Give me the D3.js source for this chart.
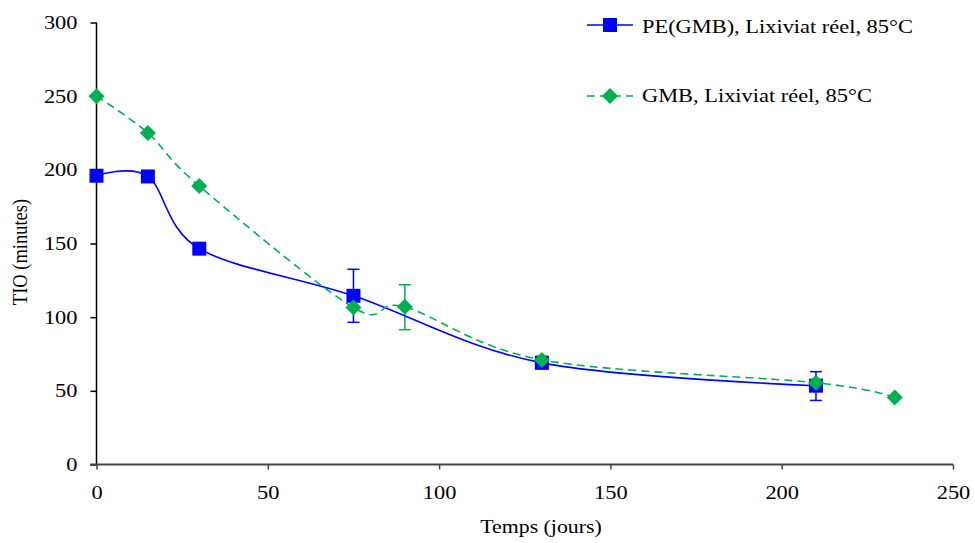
<!DOCTYPE html>
<html><head><meta charset="utf-8">
<script src="https://cdn.jsdelivr.net/npm/d3@7"></script>
<style>body{margin:0;background:#fff}svg{display:block}</style>
</head><body><svg id="c" width="975" height="543"></svg>
<script>
const xTicks=[0,50,100,150,200,250];
const yTicks=[0,50,100,150,200,250,300];
const peDays=[0,15,30,75,130,210];
const peTIO=[196,195.5,146.5,114.5,69,53.5];
const peErr=[null,null,null,[96.5,132.5],null,[43.5,63]];
const gmbDays=[0,15,30,75,90,130,210,233];
const gmbTIO=[250,225,189,106.5,107,71,55.5,45.5];
const gmbErr=[null,null,null,null,[91.5,122],[69,73.5],null,null];
const seriesNames=["PE(GMB), Lixiviat réel, 85°C","GMB, Lixiviat réel, 85°C"];

const FONT="'Liberation Serif', 'Times New Roman', Times, serif";
const SX=1.18; // horizontal stretch of the reference's text
const svg=d3.select("#c").attr("font-family",FONT);
const x=d3.scaleLinear().domain([0,250]).range([96.5,953]);
const y=d3.scaleLinear().domain([0,300]).range([464.5,22.5]);
const blue="#0000FF", green="#00B050";

function stretchText(sel,ax,ay){ // scale horizontally about (ax,ay)
  sel.attr("transform",`translate(${ax},${ay}) scale(${SX},1) translate(${-ax},${-ay})`);
}

// axes
const ya=svg.append("g").attr("transform","translate(96.5,0)").call(d3.axisLeft(y).tickValues(yTicks).tickSize(6).tickPadding(13));
ya.attr("font-family",FONT);
ya.select(".domain").attr("stroke","#000").attr("stroke-width",1.5).attr("d","M0,"+y(300)+"V"+y(0));
ya.selectAll(".tick line").attr("stroke","#000").attr("stroke-width",1.5);
ya.selectAll("text").attr("font-size",19).attr("fill","#000").attr("font-family",FONT).each(function(){stretchText(d3.select(this),-19,0);});
const xa=svg.append("g").attr("transform","translate(0,464.5)").call(d3.axisBottom(x).tickValues(xTicks).tickSize(5).tickPadding(16));
xa.attr("font-family",FONT);
xa.select(".domain").attr("stroke","#444").attr("stroke-width",1.8).attr("d","M90,0H953");
xa.selectAll(".tick line").attr("stroke","#444").attr("stroke-width",1.5);
xa.selectAll("text").attr("font-size",19).attr("fill","#000").attr("font-family",FONT).each(function(){stretchText(d3.select(this),0,0);});

const xt=svg.append("text").attr("x",541).attr("y",533).attr("text-anchor","middle").attr("font-size",18.5).attr("font-family",FONT).text("Temps (jours)");
stretchText(xt,541,533);
svg.append("text").attr("transform",`translate(27,252) scale(${SX},1) rotate(-90)`).attr("text-anchor","middle").attr("font-size",18.5).attr("font-family",FONT).text("TIO (minutes)");

const line=d3.line().x(d=>x(d[0])).y(d=>y(d[1])).curve(d3.curveCardinal.tension(0));
const pe=peDays.map((d,i)=>[d,peTIO[i]]);
const gm=gmbDays.map((d,i)=>[d,gmbTIO[i]]);

function errBars(days,err,col){
  days.forEach((d,i)=>{const e=err[i]; if(!e) return;
    const g=svg.append("g").attr("stroke",col).attr("stroke-width",1.5);
    g.append("line").attr("x1",x(d)).attr("x2",x(d)).attr("y1",y(e[0])).attr("y2",y(e[1]));
    [e[0],e[1]].forEach(v=>g.append("line").attr("x1",x(d)-6).attr("x2",x(d)+6).attr("y1",y(v)).attr("y2",y(v)));
  });
}
errBars(gmbDays,gmbErr,green);
errBars(peDays,peErr,blue);

svg.append("path").attr("d",line(pe)).attr("fill","none").attr("stroke",blue).attr("stroke-width",1.6);
svg.append("path").attr("d",line(gm)).attr("fill","none").attr("stroke",green).attr("stroke-width",1.6).attr("stroke-dasharray","8,5");

const sq=14, dm=8;
svg.selectAll(".sq").data(pe).join("rect").attr("x",d=>x(d[0])-sq/2).attr("y",d=>y(d[1])-sq/2).attr("width",sq).attr("height",sq).attr("fill",blue);
function diamond(cx,cy){return `M${cx},${cy-dm}L${cx+dm},${cy}L${cx},${cy+dm}L${cx-dm},${cy}Z`;}
svg.selectAll(".dm").data(gm).join("path").attr("d",d=>diamond(x(d[0]),y(d[1]))).attr("fill",green);

// legend
const lg=svg.append("g");
lg.append("line").attr("x1",587).attr("x2",633).attr("y1",25).attr("y2",25).attr("stroke",blue).attr("stroke-width",1.6);
lg.append("rect").attr("x",603).attr("y",18).attr("width",14).attr("height",14).attr("fill",blue);
stretchText(lg.append("text").attr("x",642).attr("y",33).attr("font-size",19).text(seriesNames[0]),642,33);
lg.append("line").attr("x1",587).attr("x2",633).attr("y1",96).attr("y2",96).attr("stroke",green).attr("stroke-width",1.6).attr("stroke-dasharray","8,5");
lg.append("path").attr("d",diamond(610,96)).attr("fill",green);
stretchText(lg.append("text").attr("x",642).attr("y",102).attr("font-size",19).text(seriesNames[1]),642,102);
</script></body></html>
